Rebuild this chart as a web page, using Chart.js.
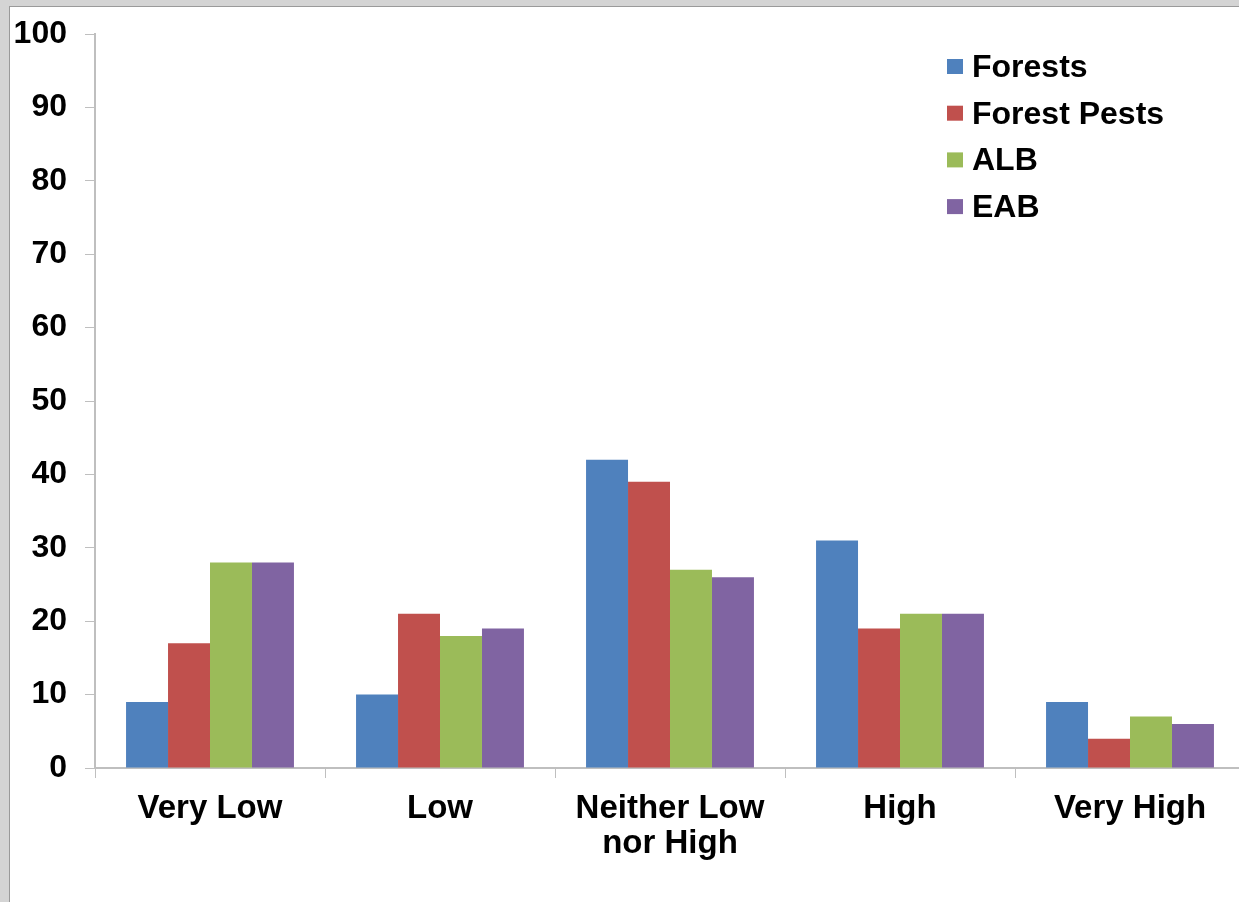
<!DOCTYPE html>
<html>
<head>
<meta charset="utf-8">
<script src="https://cdn.jsdelivr.net/npm/chart.js@4.4.1/dist/chart.umd.min.js"></script>
<style>
  html, body { margin: 0; padding: 0; overflow: hidden; width: 1239px; height: 902px; background: #d4d4d4; }
  #frame { position: absolute; left: 9px; top: 6px; width: 1260px; height: 910px; background: #ffffff;
           border-left: 1px solid #9a9a9a; border-top: 1px solid #9a9a9a; }
  #wrap { position: absolute; left: 0; top: 0; width: 1250px; height: 895px; }
</style>
</head>
<body>
<div id="frame"><div id="wrap"><canvas id="c" width="1250" height="895"></canvas></div></div>
<script>
const categories = [["Very Low"], ["Low"], ["Neither Low", "nor High"], ["High"], ["Very High"]];
const seriesNames = ["Forests", "Forest Pests", "ALB", "EAB"];
const forests     = [9, 10, 42, 31, 9];
const forestPests = [17, 21, 39, 19, 4];
const alb         = [28, 18, 27, 21, 7];
const eab         = [28, 19, 26, 21, 6];
const seriesColors = ["#4F81BD", "#C0504D", "#9BBB59", "#8064A2"];
const yTicks = [0, 10, 20, 30, 40, 50, 60, 70, 80, 90, 100];

const FONT = "'Liberation Sans', Arial, sans-serif";

const legendPlugin = {
  id: 'insideLegend',
  afterDraw(chart) {
    const ctx = chart.ctx;
    ctx.save();
    ctx.font = "bold 32px " + FONT;
    ctx.textBaseline = 'middle';
    ctx.textAlign = 'left';
    chart.data.datasets.forEach((ds, i) => {
      const cy = 60 + i * 46.7;
      ctx.fillStyle = ds.backgroundColor;
      ctx.fillRect(937, cy - 8, 16, 15);
      ctx.fillStyle = '#000';
      ctx.fillText(ds.label, 962, cy + 1);
    });
    ctx.restore();
  }
};

const allSeries = [forests, forestPests, alb, eab];
new Chart(document.getElementById('c'), {
  type: 'bar',
  data: {
    labels: categories,
    datasets: allSeries.map((vals, i) => ({
      label: seriesNames[i],
      data: vals,
      backgroundColor: seriesColors[i],
      borderWidth: 0,
      categoryPercentage: 0.73,
      barPercentage: 1.0
    }))
  },
  options: {
    responsive: false,
    animation: false,
    devicePixelRatio: 1,
    layout: { padding: { top: 27, right: 15, left: 0, bottom: 0 } },
    plugins: { legend: { display: false }, tooltip: { enabled: false }, title: { display: false } },
    scales: {
      x: {
        offset: true,
        grid: { display: true, drawOnChartArea: false, drawTicks: true, tickLength: 10, color: '#bfbfbf', offset: true },
        border: { display: true, color: '#bfbfbf', width: 2 },
        ticks: { color: '#000', font: { family: FONT, size: 33, weight: 'bold', lineHeight: 1.06 }, padding: 13, maxRotation: 0, autoSkip: false },
        afterFit(s) { s.height = 134; s.paddingLeft = 0; s.paddingRight = 0; }
      },
      y: {
        min: 0, max: 100,
        afterBuildTicks(s) { s.ticks = yTicks.map(v => ({ value: v })); },
        grid: { display: true, drawOnChartArea: false, drawTicks: true, tickLength: 10, color: '#bfbfbf' },
        border: { display: true, color: '#bfbfbf', width: 2 },
        ticks: { color: '#000', font: { family: FONT, size: 32, weight: 'bold' }, padding: 18 },
        afterFit(s) { s.width = 85; s.paddingTop = 0; s.paddingBottom = 0; }
      }
    }
  },
  plugins: [legendPlugin]
});
</script>
</body>
</html>
